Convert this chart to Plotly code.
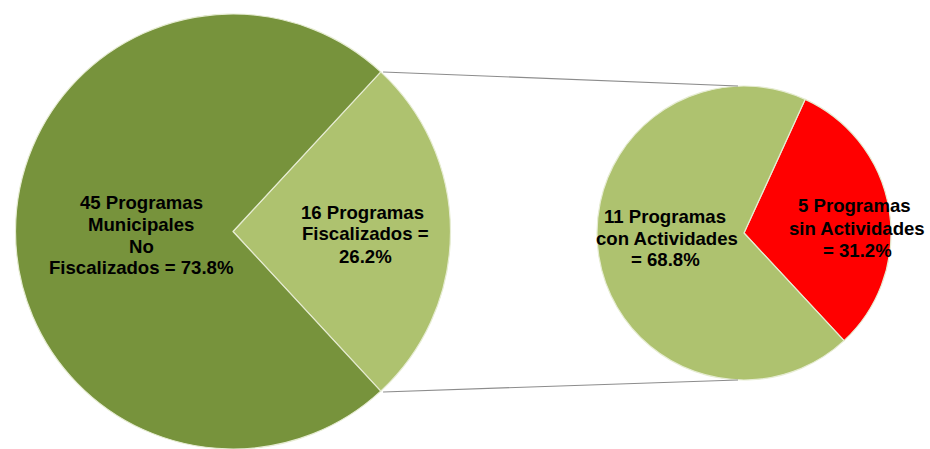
import plotly.graph_objects as go
import math

# ---- data ----
main_labels = ["Programas Fiscalizados", "Programas Municipales No Fiscalizados"]
main_values = [16, 45]
main_pct = ["26.2%", "73.8%"]
main_colors = ["#AEC26F", "#77933C"]

sub_labels = ["Programas sin Actividades", "Programas con Actividades"]
sub_values = [5, 11]
sub_pct = ["31.2%", "68.8%"]
sub_colors = ["#FF0000", "#AEC26F"]

W, H = 930, 449

# geometry (pixels)
big_cx, big_cy, big_r = 233, 232, 218
sm_cx, sm_cy, sm_r = 744, 233, 147

def px_x(x):
    return x / W

def px_y(y):
    return 1 - y / H

fig = go.Figure()

half_angle = 180.0 * main_values[0] / sum(main_values)
fig.add_trace(go.Pie(
    labels=main_labels, values=main_values, sort=False, direction="clockwise",
    rotation=90 - half_angle,
    marker=dict(colors=main_colors, line=dict(color="#E6ECD2", width=1.2)),
    textinfo="none", hoverinfo="label+value+percent", showlegend=False,
    domain=dict(x=[px_x(big_cx - big_r), px_x(big_cx + big_r)],
                y=[max(0, px_y(big_cy + big_r)), px_y(big_cy - big_r)]),
))

sub_start = 24.6
fig.add_trace(go.Pie(
    labels=sub_labels, values=sub_values, sort=False, direction="clockwise",
    rotation=sub_start,
    marker=dict(colors=sub_colors, line=dict(color="#E6ECD2", width=1.2)),
    textinfo="none", hoverinfo="label+value+percent", showlegend=False,
    domain=dict(x=[px_x(sm_cx - sm_r), px_x(sm_cx + sm_r)],
                y=[px_y(sm_cy + sm_r), px_y(sm_cy - sm_r)]),
))

# connector lines from slice edges to secondary pie
a = math.radians(half_angle)
x0 = big_cx + big_r * math.cos(a)
yt = big_cy - big_r * math.sin(a)
yb = big_cy + big_r * math.sin(a)
for ys, ye in [(yt, sm_cy - sm_r), (yb, sm_cy + sm_r)]:
    fig.add_shape(type="line", xref="paper", yref="paper",
                  x0=px_x(x0 + 2), y0=px_y(ys), x1=px_x(sm_cx - 6), y1=px_y(ye),
                  line=dict(color="#8C8C8C", width=1.2))

font = dict(family="Liberation Sans, Arial, sans-serif", size=18.6, color="black", weight="bold")

label_lines = [
    ([f"{main_values[1]} Programas", "Municipales", "No", f"Fiscalizados = {main_pct[1]}"],
     [141, 141, 141, 141], [202, 223.5, 245, 266.5]),
    ([f"{main_values[0]} Programas", "Fiscalizados =", f"{main_pct[0]}"],
     [362, 365, 365], [211, 233, 255]),
    ([f"{sub_values[1]} Programas", "con Actividades", f"= {sub_pct[1]}"],
     [665, 667, 665], [215, 237, 258]),
    ([f"{sub_values[0]} Programas", "sin Actividades", f"= {sub_pct[0]}"],
     [854, 857, 857], [204, 227, 249]),
]
for lines, xs, ys in label_lines:
    for t, x, y in zip(lines, xs, ys):
        fig.add_annotation(text=t, x=px_x(x), y=px_y(y + 1), xref="paper", yref="paper",
                           showarrow=False, align="center", xanchor="center", yanchor="middle",
                           font=font)

fig.update_layout(width=W, height=H, margin=dict(l=0, r=0, t=0, b=0),
                  paper_bgcolor="white", plot_bgcolor="white")

fig.write_html("out.html", config={"displayModeBar": False},
               post_script="document.body.style.margin='0';")
